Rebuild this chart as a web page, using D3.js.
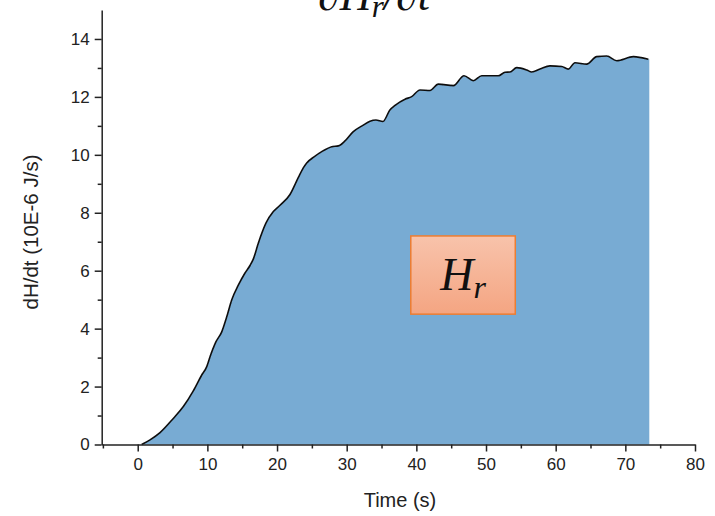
<!DOCTYPE html>
<html>
<head>
<meta charset="utf-8">
<script src="https://cdn.jsdelivr.net/npm/d3@7/dist/d3.min.js"></script>
<style>
  html, body { margin: 0; padding: 0; background: #fff; }
  svg { display: block; }
  .tick text { font-family: "Liberation Sans", Arial, sans-serif; }
</style>
</head>
<body>
<svg id="chart" width="715" height="516"></svg>
<script>
// Heat-flow curve dH/dt over time (s)
const timeS = [0.57, 1.77, 3.2, 5.11, 6.55, 7.98, 9.19, 9.91, 10.38, 11.24, 12.06, 12.78, 13.49,
  14.44, 15.4, 16.12, 16.59, 17.31, 18.42, 19.47, 20.43, 21.86, 23.06, 23.77, 24.26, 25.31,
  26.41, 27.85, 28.8, 29.76, 30.95, 32.2, 33.35, 34.2, 35.2, 36.2, 36.94, 38.37, 39.33, 40.52,
  41.96, 43.15, 45.31, 46.84, 48.18, 49.38, 51.77, 52.73, 53.44, 54.41, 55.84, 56.56, 57.75,
  59.18, 60.87, 61.81, 62.77, 64.45, 65.89, 67.33, 68.76, 71.15, 73.3, 73.44];
const heatFlow = [0, 0.16, 0.41, 0.9, 1.31, 1.85, 2.4, 2.69, 3.03, 3.55, 3.89, 4.41, 4.99,
  5.5, 5.92, 6.18, 6.4, 6.95, 7.65, 8.04, 8.26, 8.63, 9.22, 9.55, 9.72, 9.93,
  10.11, 10.28, 10.31, 10.48, 10.8, 11.0, 11.16, 11.2, 11.15, 11.55, 11.71, 11.92, 12.01, 12.24,
  12.22, 12.44, 12.39, 12.73, 12.56, 12.73, 12.73, 12.85, 12.86, 13.01, 12.93, 12.86, 12.96,
  13.07, 13.05, 12.96, 13.18, 13.13, 13.39, 13.41, 13.25, 13.39, 13.3, 13.3];

const xMajorTicks = [0, 10, 20, 30, 40, 50, 60, 70, 80];
const xMinorTicks = [-5, 5, 15, 25, 35, 45, 55, 65, 75];
const yMajorTicks = [0, 2, 4, 6, 8, 10, 12, 14];
const yMinorTicks = [1, 3, 5, 7, 9, 11, 13];

const xTitle = "Time (s)";
const yTitle = "dH/dt (10E-6 J/s)";

const points = timeS.map((t, i) => ({ t, v: heatFlow[i] }));

const svg = d3.select("#chart");
const x = d3.scaleLinear().domain([-5.17, 80]).range([101.7, 695]);
const y = d3.scaleLinear().domain([0, 15]).range([444.5, 10]);

const defs = svg.append("defs");
const grad = defs.append("linearGradient").attr("id", "boxFill")
  .attr("x1", 0).attr("y1", 0).attr("x2", 0).attr("y2", 1);
grad.append("stop").attr("offset", "0%").attr("stop-color", "#f8c3ab");
grad.append("stop").attr("offset", "100%").attr("stop-color", "#f4a582");
defs.append("filter").attr("id", "soft")
  .append("feGaussianBlur").attr("stdDeviation", 0.45);

// filled area under the curve
const area = d3.area()
  .x(d => x(d.t)).y0(y(0)).y1(d => y(d.v))
  .curve(d3.curveMonotoneX);
svg.append("path").datum(points)
  .attr("d", area)
  .attr("fill", "#78abd3");

// outline of the curve
const line = d3.line()
  .x(d => x(d.t)).y(d => y(d.v))
  .curve(d3.curveMonotoneX);
svg.append("path").datum(points.slice(0, -1))
  .attr("d", line)
  .attr("fill", "none")
  .attr("stroke", "#111")
  .attr("stroke-width", 1.6)
  .attr("filter", "url(#soft)");

// axes
const axisColor = "#222";
svg.append("g").attr("transform", `translate(0,${y(0)})`)
  .call(d3.axisBottom(x).tickValues(xMajorTicks).tickFormat(d3.format("d"))
    .tickSize(7).tickPadding(6).tickSizeOuter(0));
svg.append("g").attr("transform", `translate(0,${y(0)})`)
  .call(d3.axisBottom(x).tickValues(xMinorTicks).tickFormat("").tickSize(4).tickSizeOuter(0))
  .call(g => g.select(".domain").remove());
svg.append("g").attr("transform", `translate(${x.range()[0]},0)`)
  .call(d3.axisLeft(y).tickValues(yMajorTicks).tickFormat(d3.format("d"))
    .tickSize(7).tickPadding(5).tickSizeOuter(0));
svg.append("g").attr("transform", `translate(${x.range()[0]},0)`)
  .call(d3.axisLeft(y).tickValues(yMinorTicks).tickFormat("").tickSize(4).tickSizeOuter(0))
  .call(g => g.select(".domain").remove());

svg.selectAll(".domain, .tick line")
  .attr("stroke", axisColor).attr("stroke-width", 1.5);
svg.selectAll(".tick text")
  .attr("font-size", 17).attr("fill", "#222");

// axis titles
svg.append("text")
  .attr("x", 400).attr("y", 507)
  .attr("text-anchor", "middle")
  .attr("font-family", "Liberation Sans, Arial, sans-serif")
  .attr("font-size", 20).attr("fill", "#222")
  .text(xTitle);
svg.append("text")
  .attr("transform", "translate(38,232) rotate(-90)")
  .attr("text-anchor", "middle")
  .attr("font-family", "Liberation Sans, Arial, sans-serif")
  .attr("font-size", 20.5).attr("fill", "#222")
  .text(yTitle);

// title  ∂H_r/∂t
const title = svg.append("text")
  .attr("x", 374).attr("y", 10)
  .attr("text-anchor", "middle")
  .attr("font-family", "Liberation Serif, DejaVu Serif, serif")
  .attr("font-style", "italic")
  .attr("font-size", 44).attr("fill", "#111");
title.append("tspan").text("\u2202H");
title.append("tspan").attr("dy", 7).attr("font-size", 31).text("r");
title.append("tspan").attr("dy", -7).text("/\u2202t");

// labelled box for H_r
const bx0 = x(39.2), bx1 = x(54.2), by0 = y(7.2), by1 = y(4.5);
svg.append("rect")
  .attr("x", bx0).attr("y", by0)
  .attr("width", bx1 - bx0).attr("height", by1 - by0)
  .attr("fill", "url(#boxFill)")
  .attr("stroke", "#ed7d31").attr("stroke-width", 1.5);
const hr = svg.append("text")
  .attr("x", (bx0 + bx1) / 2).attr("y", 290)
  .attr("text-anchor", "middle")
  .attr("font-family", "Liberation Serif, DejaVu Serif, serif")
  .attr("font-style", "italic")
  .attr("font-size", 46).attr("fill", "#111");
hr.append("tspan").text("H");
hr.append("tspan").attr("dy", 8).attr("font-size", 32).text("r");
</script>
</body>
</html>
